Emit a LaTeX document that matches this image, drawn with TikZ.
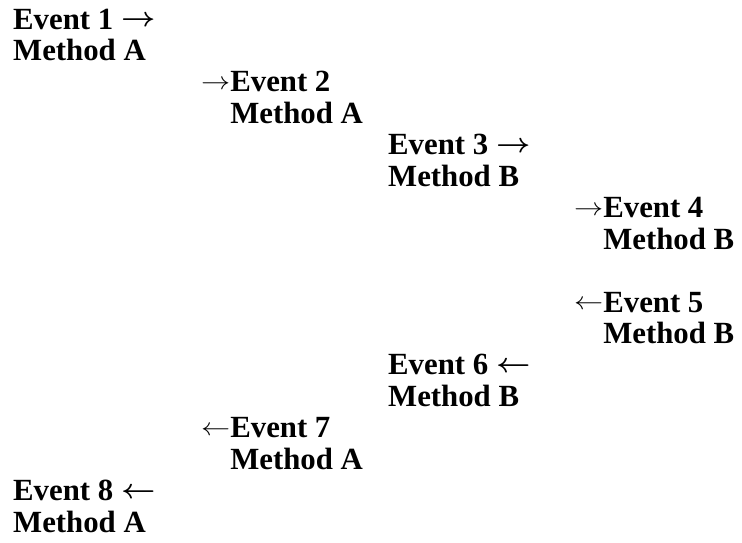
\documentclass[tikz,border=0pt]{standalone}
\usepackage{fontspec}
\setmainfont{Liberation Serif}

% arrows beside the events: thin one in front, bold one behind
\newcommand{\thinarr}[1]{\raisebox{.07em}{\scalebox{1.17}[1]{$#1$}}}
\newcommand{\boldarr}[1]{\raisebox{.07em}{\scalebox{1.2}[1.1]{\boldmath$#1$}}}

\begin{document}
\begin{tikzpicture}[x=1pt, y=1pt,
    evt/.style={anchor=base west, inner sep=0pt, font=\fontsize{30.8}{31.5}\selectfont\bfseries}]
    \useasboundingbox (0,0) rectangle (742,-542);

    % events, one node per line (event line + method line)
    \foreach \i/\x/\k/\evtext/\mtext in {
        1/13/0/{Event 1 \boldarr{\rightarrow}}/{Method A},
        2/201/2/{\thinarr{\rightarrow}Event 2}/{\phantom{\thinarr{\rightarrow}}Method A},
        3/388/4/{Event 3 \boldarr{\rightarrow}}/{Method B},
        4/574/6/{\thinarr{\rightarrow}Event 4}/{\phantom{\thinarr{\rightarrow}}Method B},
        5/574/9/{\thinarr{\leftarrow}Event 5}/{\phantom{\thinarr{\leftarrow}}Method B},
        6/388/11/{Event 6 \boldarr{\leftarrow}}/{Method B},
        7/201/13/{\thinarr{\leftarrow}Event 7}/{\phantom{\thinarr{\leftarrow}}Method A},
        8/13/15/{Event 8 \boldarr{\leftarrow}}/{Method A}} {
        \node[evt] (ev\i) at (\x,{-29-31.45*\k}) {\evtext};
        \node[evt] (mt\i) at (\x,{-29-31.45*(\k+1)}) {\mtext};
    }
\end{tikzpicture}
\end{document}
